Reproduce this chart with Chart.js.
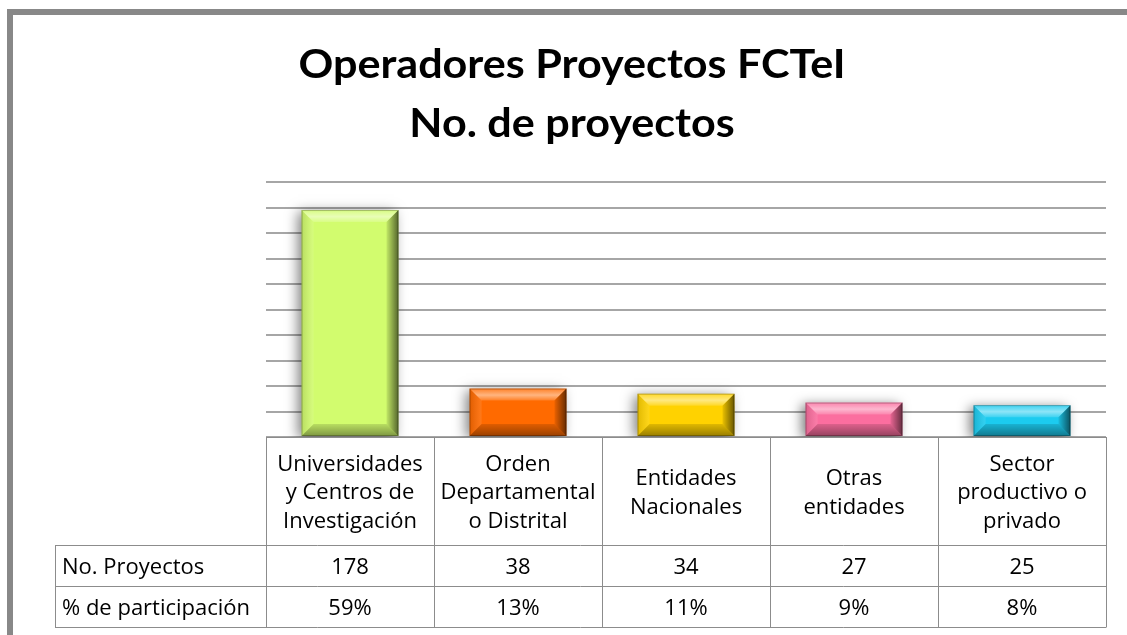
<!DOCTYPE html>
<html>
<head>
<meta charset="utf-8">
<script src="https://cdn.jsdelivr.net/npm/chart.js@4.4.1/dist/chart.umd.min.js"></script>
<style>
html,body{margin:0;padding:0;background:#fff;overflow:hidden;}
canvas{display:block;}
</style>
</head>
<body>
<canvas id="c" width="1127" height="635"></canvas>
<script>
// ---- data ----
const titleLines = ["Operadores Proyectos FCTeI", "No. de proyectos"];
const categories = [
  ["Universidades", "y Centros de", "Investigación"],
  ["Orden", "Departamental", "o Distrital"],
  ["Entidades", "Nacionales"],
  ["Otras", "entidades"],
  ["Sector", "productivo o", "privado"]
];
const noProyectos = [178, 38, 34, 27, 25];
const participacion = ["59%", "13%", "11%", "9%", "8%"];
const rowLabels = ["No. Proyectos", "% de participación"];
const barColors = ["#d2fc6e", "#ff6a00", "#ffd200", "#fb6e9f", "#1ccbef"];
const yMin = 0, yMax = 200, yStep = 20;

const TITLE_FONT = "Lato, 'Open Sans', sans-serif";
const BODY_FONT = "'Open Sans', Lato, sans-serif";

const framePlugin = {
  id: 'frame',
  beforeDraw(chart) {
    const ctx = chart.ctx;
    ctx.save();
    ctx.fillStyle = '#ffffff';
    ctx.fillRect(0, 0, chart.width, chart.height);
    ctx.fillStyle = '#888888';
    ctx.fillRect(7, 9, 6, chart.height - 9);
    ctx.fillRect(7, 9, chart.width - 7, 6);
    // title
    ctx.fillStyle = '#000';
    ctx.textAlign = 'center';
    ctx.textBaseline = 'alphabetic';
    ctx.font = 'bold 40px ' + TITLE_FONT;
    const w = ctx.measureText(titleLines[0]).width;
    const sx = 547 / w;
    ctx.translate(572, 0);
    ctx.scale(sx, 1);
    ctx.fillText(titleLines[0], 0, 78);
    ctx.fillText(titleLines[1], 0, 137);
    ctx.restore();
  }
};

function bevel(ctx, el) {
  const p = el.getProps(['x', 'y', 'base', 'width'], true);
  const l = p.x - p.width / 2, r = p.x + p.width / 2, t = Math.min(p.y, p.base), b = Math.max(p.y, p.base);
  const s = Math.min(12, (b - t) / 2, (r - l) / 2);
  ctx.save();
  let g = ctx.createLinearGradient(0, t, 0, t + s);
  g.addColorStop(0, 'rgba(255,255,255,0.15)');
  g.addColorStop(0.55, 'rgba(255,255,255,0.5)');
  g.addColorStop(1, 'rgba(255,255,255,0.15)');
  ctx.fillStyle = g;
  ctx.beginPath(); ctx.moveTo(l, t); ctx.lineTo(r, t); ctx.lineTo(r - s, t + s); ctx.lineTo(l + s, t + s); ctx.closePath(); ctx.fill();
  g = ctx.createLinearGradient(l, 0, l + s, 0);
  g.addColorStop(0, 'rgba(0,0,0,0.12)');
  g.addColorStop(1, 'rgba(255,255,255,0.1)');
  ctx.fillStyle = g;
  ctx.beginPath(); ctx.moveTo(l, t); ctx.lineTo(l + s, t + s); ctx.lineTo(l + s, b - s); ctx.lineTo(l, b); ctx.closePath(); ctx.fill();
  g = ctx.createLinearGradient(r - s, 0, r, 0);
  g.addColorStop(0, 'rgba(0,0,0,0.08)');
  g.addColorStop(1, 'rgba(0,0,0,0.6)');
  ctx.fillStyle = g;
  ctx.beginPath(); ctx.moveTo(r, t); ctx.lineTo(r, b); ctx.lineTo(r - s, b - s); ctx.lineTo(r - s, t + s); ctx.closePath(); ctx.fill();
  g = ctx.createLinearGradient(0, b - s, 0, b);
  g.addColorStop(0, 'rgba(0,0,0,0.12)');
  g.addColorStop(1, 'rgba(0,0,0,0.4)');
  ctx.fillStyle = g;
  ctx.beginPath(); ctx.moveTo(l, b); ctx.lineTo(r, b); ctx.lineTo(r - s, b - s); ctx.lineTo(l + s, b - s); ctx.closePath(); ctx.fill();
  ctx.strokeStyle = 'rgba(0,0,0,0.25)';
  ctx.lineWidth = 1;
  ctx.strokeRect(l + 0.5, t + 0.5, r - l - 1, b - t - 1);
  ctx.restore();
}

const barFxPlugin = {
  id: 'barfx',
  beforeDatasetsDraw(chart) {
    const ctx = chart.ctx, a = chart.chartArea;
    ctx.save();
    ctx.beginPath();
    ctx.rect(a.left - 20, a.top - 20, a.right - a.left + 40, a.bottom - a.top + 20);
    ctx.clip();
    ctx.shadowColor = 'rgba(0,0,0,0.5)';
    ctx.shadowBlur = 12;
    ctx.shadowOffsetX = -4;
    ctx.shadowOffsetY = 2;
  },
  afterDatasetsDraw(chart) {
    const ctx = chart.ctx;
    ctx.restore();
    chart.getDatasetMeta(0).data.forEach(el => bevel(ctx, el));
  }
};

const tablePlugin = {
  id: 'table',
  afterDraw(chart) {
    const ctx = chart.ctx, a = chart.chartArea;
    const xs = chart.scales.x;
    const n = categories.length;
    const cw = (a.right - a.left) / n;
    const labelLeft = 55;
    const headBottom = 545, rowH = 41;
    const rowsBottom = headBottom + rowH * rowLabels.length;
    ctx.save();
    ctx.strokeStyle = '#8c8c8c';
    ctx.lineWidth = 1;
    ctx.beginPath();
    ctx.moveTo(a.left, a.bottom + 0.5); ctx.lineTo(a.right, a.bottom + 0.5);
    for (let i = 0; i <= rowLabels.length; i++) {
      const y = headBottom + i * rowH + 0.5;
      ctx.moveTo(labelLeft, y); ctx.lineTo(a.right, y);
    }
    for (let i = 0; i <= n; i++) {
      const x = Math.round(a.left + i * cw) + 0.5;
      ctx.moveTo(x, a.bottom); ctx.lineTo(x, rowsBottom + 0.5);
    }
    ctx.moveTo(labelLeft + 0.5, headBottom); ctx.lineTo(labelLeft + 0.5, rowsBottom + 0.5);
    ctx.stroke();

    ctx.fillStyle = '#000';
    ctx.font = '22px ' + BODY_FONT;
    ctx.textBaseline = 'middle';
    ctx.textAlign = 'center';
    const lh = 28.5;
    const dy = 2;
    const headMid = (a.bottom + headBottom) / 2;
    categories.forEach((lines, i) => {
      const cx = xs.getPixelForValue(i);
      const y0 = headMid - (lines.length - 1) * lh / 2;
      lines.forEach((ln, j) => ctx.fillText(ln, cx, y0 + j * lh + dy));
      ctx.fillText(String(noProyectos[i]), cx, headBottom + rowH / 2 + dy);
      ctx.fillText(participacion[i], cx, headBottom + rowH * 1.5 + dy);
    });
    ctx.textAlign = 'left';
    rowLabels.forEach((lab, k) => ctx.fillText(lab, 62, headBottom + rowH * (k + 0.5) + dy));
    ctx.restore();
  }
};

new Chart(document.getElementById('c'), {
  type: 'bar',
  data: {
    labels: categories,
    datasets: [{
      data: noProyectos,
      backgroundColor: barColors,
      borderWidth: 0,
      barPercentage: 0.577,
      categoryPercentage: 1
    }]
  },
  options: {
    responsive: false,
    animation: false,
    devicePixelRatio: 1,
    layout: { padding: { left: 266, right: 21, top: 182, bottom: 198 } },
    plugins: { legend: { display: false }, title: { display: false }, tooltip: { enabled: false } },
    scales: {
      x: { display: false },
      y: {
        min: yMin, max: yMax,
        ticks: { display: false, stepSize: yStep },
        grid: { color: '#a6a6a6', lineWidth: 2, drawTicks: false },
        border: { display: false },
        afterFit(s) { s.width = 0; }
      }
    }
  },
  plugins: [framePlugin, barFxPlugin, tablePlugin]
});
</script>
</body>
</html>
